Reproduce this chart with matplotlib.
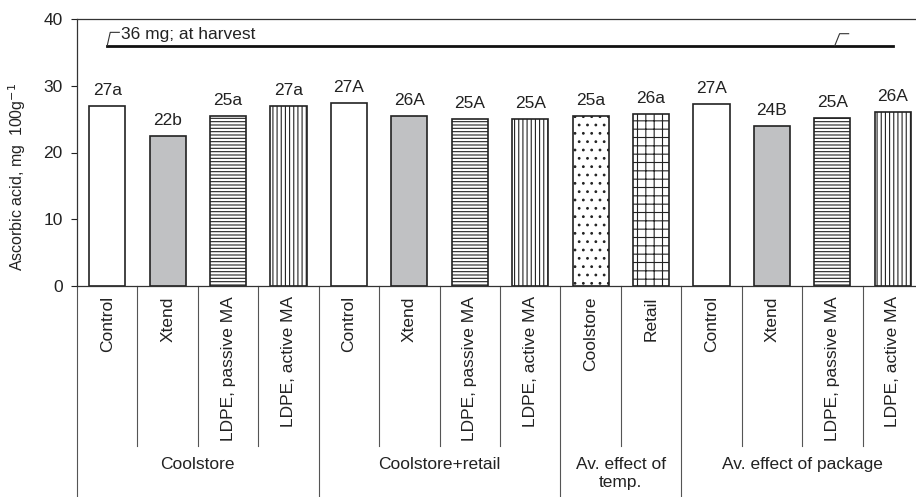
import matplotlib.pyplot as plt
from matplotlib.transforms import blended_transform_factory

plt.rcParams['font.family'] = ['Liberation Sans', 'DejaVu Sans']
plt.rcParams['hatch.linewidth'] = 0.8

# data
treatments = ['Control', 'Xtend', 'LDPE, passive MA', 'LDPE, active MA',
              'Control', 'Xtend', 'LDPE, passive MA', 'LDPE, active MA',
              'Coolstore', 'Retail',
              'Control', 'Xtend', 'LDPE, passive MA', 'LDPE, active MA']
values = [27.0, 22.4, 25.4, 26.9,
          27.4, 25.5, 25.0, 25.0,
          25.5, 25.8,
          27.3, 24.0, 25.1, 26.0]
letters = ['27a', '22b', '25a', '27a',
           '27A', '26A', '25A', '25A',
           '25a', '26a',
           '27A', '24B', '25A', '26A']
groups = ['Coolstore', 'Coolstore+retail', 'Av. effect of\ntemp.', 'Av. effect of package']
group_sizes = [4, 4, 2, 4]
harvest = 36

fills = ['white', '#c0c1c3', 'white', 'white'] * 2 + ['white', 'white'] + ['white', '#c0c1c3', 'white', 'white']
hatches = ['', '', '-----', '||||'] * 2 + ['..', '++'] + ['', '', '-----', '||||']

FS = 12.5
TXT = '#222222'

fig = plt.figure(figsize=(9.16, 4.97), dpi=100)
ax = fig.add_axes([77 / 916, 211 / 497, 846 / 916, 267 / 497])

x = list(range(len(values)))
ax.bar(x, values, width=0.6, color=fills, hatch=hatches, edgecolor='#222222', linewidth=1.2)

for xi, v, lab in zip(x, values, letters):
    ax.annotate(lab, (xi, v), xytext=(0, 11.3), textcoords='offset points',
                ha='center', va='center', fontsize=FS, color=TXT)

# at-harvest reference line with leader labels
ax.plot([0, 13], [harvest, harvest], color='#111111', lw=2)
ax.plot([0, 0.05, 0.2], [harvest, 38.0, 38.0], color='#333333', lw=0.8)
ax.plot([12.04, 12.12, 12.27], [harvest, 37.8, 37.8], color='#333333', lw=0.8)
ax.text(0.22, 37.7, '36 mg; at harvest', ha='left', va='center', fontsize=FS, color=TXT)

ax.set_xlim(-0.5, len(values) - 0.5)
ax.set_ylim(0, 40)
ax.set_yticks([0, 10, 20, 30, 40])
ax.tick_params(axis='y', direction='out', length=4.3, pad=6, labelsize=FS,
               colors=TXT, width=0.8)
ax.set_xticks([])
for s in ax.spines.values():
    s.set_color('#333333')
    s.set_linewidth(0.9)
ax.set_ylabel('Ascorbic acid, mg  100g$^{-1}$', fontsize=11.5, color=TXT)
ax.yaxis.set_label_coords(-0.058, 0.41)

# category axis: rotated labels, separators, group labels
tr = blended_transform_factory(ax.transData, ax.transAxes)
for xi, name in zip(x, treatments):
    ax.text(xi, -0.038, name, rotation=90, ha='center', va='top', fontsize=FS,
            color=TXT, transform=tr)

start = 0
bounds = [-0.5]
for g, n in zip(groups, group_sizes):
    for k in range(1, n):
        ax.plot([start + k - 0.5] * 2, [0, -0.6], color='#555555', lw=0.8,
                transform=tr, clip_on=False)
    ax.text(start + (n - 1) / 2, -0.642, g, ha='center', va='top', fontsize=FS,
            color=TXT, transform=tr)
    start += n
    bounds.append(start - 0.5)
for b in bounds:
    ax.plot([b, b], [0, -0.8], color='#555555', lw=0.8, transform=tr, clip_on=False)

fig.savefig('out.png', dpi=100)
